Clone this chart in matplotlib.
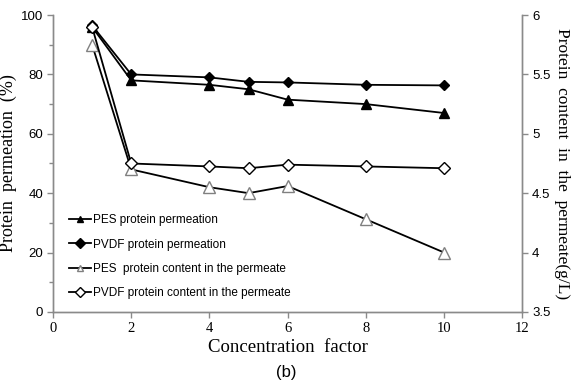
import matplotlib
matplotlib.use("Agg")
import matplotlib.pyplot as plt
from matplotlib.ticker import MultipleLocator

# data
factor = [1, 2, 4, 5, 6, 8, 10]
pes_perm = [96, 78, 76.5, 75, 71.5, 70, 67]
pvdf_perm = [96.5, 80, 79, 77.5, 77.3, 76.5, 76.3]
pes_content = [5.75, 4.70, 4.55, 4.50, 4.56, 4.28, 4.00]
pvdf_content = [5.90, 4.75, 4.725, 4.71, 4.74, 4.725, 4.71]

SERIF = ["Liberation Serif", "DejaVu Serif"]
SANS = ["Liberation Sans", "DejaVu Sans"]
AXC = "#8a8a8a"

fig = plt.figure(figsize=(5.73, 3.86), dpi=100)
ax = fig.add_axes([0.0925, 0.192, 0.819, 0.769])
ax2 = ax.twinx()

l1, = ax.plot(factor, pes_perm, color="black", lw=1.3, marker="^", ms=6.5,
              mfc="black", mec="black", label="PES protein permeation")
l2, = ax.plot(factor, pvdf_perm, color="black", lw=1.3, marker="D", ms=5,
              mfc="black", mec="black", label="PVDF protein permeation")
l3, = ax2.plot(factor, pes_content, color="black", lw=1.3, marker="^", ms=8,
               mfc="white", mec="#808080", mew=1.0,
               label="PES  protein content in the permeate")
l4, = ax2.plot(factor, pvdf_content, color="black", lw=1.3, marker="D", ms=6,
               mfc="white", mec="black", mew=1.0,
               label="PVDF protein content in the permeate")

ax.set_xlim(0, 12)
ax.set_ylim(0, 100)
ax2.set_ylim(3.5, 6)
ax.xaxis.set_major_locator(MultipleLocator(2))
ax.yaxis.set_major_locator(MultipleLocator(20))
ax.yaxis.set_minor_locator(MultipleLocator(10))
ax2.set_yticks([3.5, 4, 4.5, 5, 5.5, 6])
ax2.set_yticklabels(["3.5", "4", "4.5", "5", "5.5", "6"])

for a in (ax, ax2):
    a.spines["top"].set_visible(False)
    for s in ("left", "right", "bottom"):
        a.spines[s].set_color(AXC)
        a.spines[s].set_linewidth(1.0)
    a.tick_params(colors=AXC, labelcolor="black", length=4, width=1.0, pad=3)
    a.tick_params(which="minor", colors=AXC, length=3, width=1.0)

for lab in ax.get_yticklabels() + ax2.get_yticklabels():
    lab.set_family(SANS)
    lab.set_fontsize(9.5)
for lab in ax.get_xticklabels():
    lab.set_family(SERIF)
    lab.set_fontsize(10.5)

ax.set_xlabel("Concentration  factor", family=SERIF, fontsize=13.5, labelpad=3)
ax.set_ylabel("Protein  permeation  (%)", family=SERIF, fontsize=13, labelpad=3)
ax2.set_ylabel("Protein  content  in  the  permeate(g/L)", family=SERIF,
               fontsize=12.5, rotation=270, labelpad=14)

leg = ax2.legend(handles=[l1, l2, l3, l4], loc="upper left",
                 bbox_to_anchor=(0.12, 0.445), bbox_transform=fig.transFigure,
                 frameon=False, prop={"family": SANS, "size": 8.5},
                 handlelength=1.9, handletextpad=0.15, labelspacing=1.05,
                 borderaxespad=0, borderpad=0)
for h in leg.legend_handles:
    h.set_markersize(5)

fig.text(0.5, 0.035, "(b)", ha="center", va="center", fontsize=12,
         family=SANS)

fig.savefig("out.png", dpi=100)
